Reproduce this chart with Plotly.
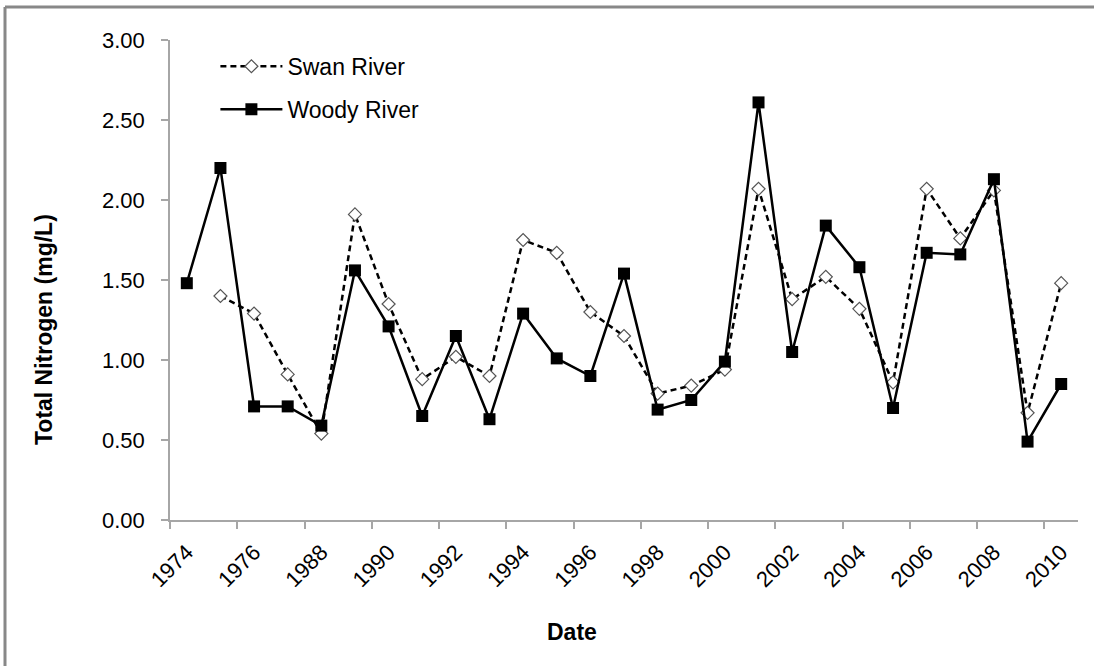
import plotly.graph_objects as go

years = ["1974", "1975", "1976", "1977", "1988", "1989", "1990", "1991", "1992",
         "1993", "1994", "1995", "1996", "1997", "1998", "1999", "2000", "2001",
         "2002", "2003", "2004", "2005", "2006", "2007", "2008", "2009", "2010"]
swan = [None, 1.40, 1.29, 0.91, 0.54, 1.91, 1.35, 0.88, 1.02, 0.90, 1.75, 1.67, 1.30,
        1.15, 0.79, 0.84, 0.94, 2.07, 1.38, 1.52, 1.32, 0.86, 2.07, 1.76, 2.06, 0.67, 1.48]
woody = [1.48, 2.20, 0.71, 0.71, 0.59, 1.56, 1.21, 0.65, 1.15, 0.63, 1.29, 1.01, 0.90,
         1.54, 0.69, 0.75, 0.99, 2.61, 1.05, 1.84, 1.58, 0.70, 1.67, 1.66, 2.13, 0.49, 0.85]
y_ticks = [0, 0.5, 1.0, 1.5, 2.0, 2.5, 3.0]

xpos = list(range(len(years)))
label_pos = xpos[::2]
label_text = years[::2]

FONT = "Liberation Sans, Arial, sans-serif"
AX = "#a6a6a6"

fig = go.Figure()
fig.add_trace(go.Scatter(
    x=xpos, y=swan, name="Swan River", mode="lines+markers", legendgroup="a",
    line=dict(color="black", width=2.5, dash="6px,4px"),
    marker=dict(symbol="diamond", size=10, color="white",
                line=dict(color="#555555", width=1.2)),
))
fig.add_trace(go.Scatter(
    x=xpos, y=woody, name="Woody River", mode="lines+markers", legendgroup="b",
    line=dict(color="black", width=2.5),
    marker=dict(symbol="square", size=12, color="black",
                line=dict(color="black", width=0)),
))

fig.update_layout(
    width=1094, height=666,
    margin=dict(l=170, r=16, t=40, b=146),
    paper_bgcolor="white", plot_bgcolor="white",
    font=dict(family=FONT, size=22, color="black"),
    showlegend=True,
    legend=dict(x=0.05, y=0.99, xanchor="left", yanchor="top",
                font=dict(size=23), itemwidth=62, tracegroupgap=10,
                bgcolor="rgba(0,0,0,0)"),
    xaxis=dict(range=[-0.5, len(years) - 0.5], tickmode="array",
               tickvals=label_pos, ticktext=label_text, tickangle=-45,
               ticks="", showline=True, linecolor=AX, linewidth=1.5,
               showgrid=False, zeroline=False, tickfont=dict(size=22),
               ticklabelstandoff=9,
               minor=dict(tick0=-0.5, dtick=2, ticks="outside", ticklen=7,
                          tickcolor=AX, tickwidth=1.5, showgrid=False)),
    yaxis=dict(range=[0, 3], tickmode="array", tickvals=y_ticks,
               tickformat=".2f", ticks="outside", ticklen=7, tickcolor=AX,
               tickwidth=1.5, showline=True, linecolor=AX, linewidth=1.5,
               showgrid=False, zeroline=False, tickfont=dict(size=22),
               ticklabelstandoff=12),
    annotations=[
        dict(text="<b>Date</b>", xref="paper", yref="paper",
             x=(572 - 170) / 908, y=(520 - 632) / 480, showarrow=False,
             font=dict(size=23), xanchor="center", yanchor="middle"),
        dict(text="<b>Total Nitrogen (mg/L)</b>", xref="paper", yref="paper",
             x=(44 - 170) / 908, y=(520 - 330) / 480, showarrow=False,
             textangle=-90, font=dict(size=23), xanchor="center", yanchor="middle"),
    ],
    shapes=[
        dict(type="line", xref="paper", yref="paper", x0=(5 - 170) / 908, x1=(5 - 170) / 908,
             y0=(520 - 7) / 480, y1=(520 - 680) / 480, line=dict(color="#888888", width=3)),
        dict(type="line", xref="paper", yref="paper", x0=(5 - 170) / 908, x1=(1110 - 170) / 908,
             y0=(520 - 7) / 480, y1=(520 - 7) / 480, line=dict(color="#888888", width=3)),
    ],
)

fig.write_html("out.html", config={"displayModeBar": False},
               post_script="document.body.style.margin='0';document.body.style.overflow='hidden';")
